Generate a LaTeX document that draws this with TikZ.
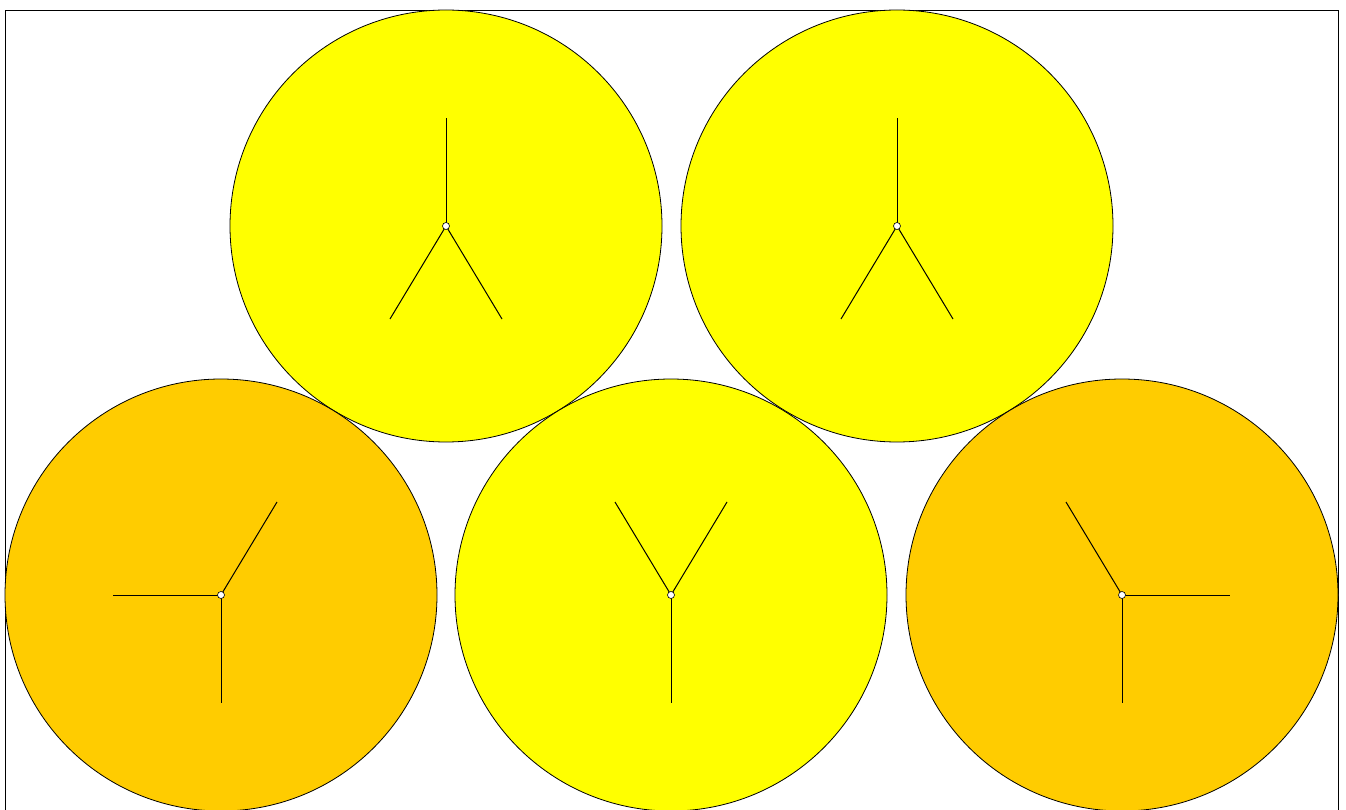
\documentclass[tikz,border=0pt]{standalone}
\usetikzlibrary{calc}
\definecolor{ylw}{HTML}{FFFF00}
\definecolor{org}{HTML}{FFCC00}
\tikzset{
  disc/.style={circle,draw=black,line width=0.8pt,minimum size=432pt,inner sep=0pt},
  hub/.style={circle,draw=black,fill=white,line width=0.6pt,minimum size=7pt,inner sep=0pt},
  spoke/.style={line width=1pt,black},
}
\begin{document}
\begin{tikzpicture}[x=1pt,y=-1pt]
\useasboundingbox (0,0) rectangle (1346,810);
\draw[line width=1pt] (5.5,11) rectangle (1338,830);
% discs
\node[disc,fill=ylw] (t1) at (446,226) {};
\node[disc,fill=ylw] (t2) at (897,226) {};
\node[disc,fill=org] (b1) at (221,595) {};
\node[disc,fill=ylw] (b2) at (671,595) {};
\node[disc,fill=org] (b3) at (1122,595) {};
% spokes: offsets in screen coordinates (y downwards)
\foreach \c/\a/\b/\d in {t1/{0,-108}/{-56,93}/{56,93},
                         t2/{0,-108}/{-56,93}/{56,93},
                         b1/{-108,0}/{0,108}/{56,-93},
                         b2/{-56,-93}/{56,-93}/{0,108},
                         b3/{-56,-93}/{108,0}/{0,108}}{
  \coordinate (\c-e1) at ($(\c.center)+(\a)$);
  \coordinate (\c-e2) at ($(\c.center)+(\b)$);
  \coordinate (\c-e3) at ($(\c.center)+(\d)$);
  \draw[spoke] (\c.center) -- (\c-e1);
  \draw[spoke] (\c.center) -- (\c-e2);
  \draw[spoke] (\c.center) -- (\c-e3);
  \node[hub] (\c-h) at (\c.center) {};
}
\end{tikzpicture}
\end{document}
